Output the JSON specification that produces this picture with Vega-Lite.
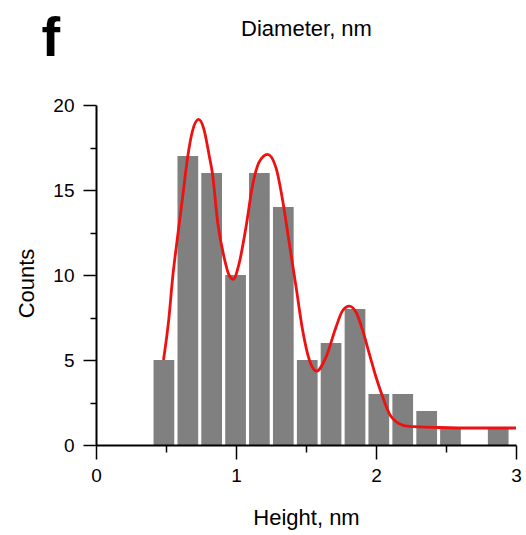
{
  "$schema": "https://vega.github.io/schema/vega-lite/v6.json",
  "autosize": "none",
  "width": 420,
  "height": 340,
  "padding": {"left": 96, "top": 105, "right": 10, "bottom": 90},
  "background": "white",
  "config": {
    "view": {"stroke": null},
    "font": "Liberation Sans",
    "axis": {
      "labelFont": "Liberation Sans",
      "titleFont": "Liberation Sans",
      "labelColor": "black",
      "titleColor": "black",
      "domainColor": "black",
      "tickColor": "black",
      "grid": false,
      "labelFontSize": 19,
      "titleFontSize": 22,
      "titleFontWeight": "normal"
    }
  },
  "datasets": {
    "bars": [
      {"start": 0.411, "end": 0.559, "count": 5},
      {"start": 0.582, "end": 0.730, "count": 17},
      {"start": 0.752, "end": 0.900, "count": 16},
      {"start": 0.923, "end": 1.071, "count": 10},
      {"start": 1.093, "end": 1.241, "count": 16},
      {"start": 1.264, "end": 1.412, "count": 14},
      {"start": 1.435, "end": 1.583, "count": 5},
      {"start": 1.605, "end": 1.753, "count": 6},
      {"start": 1.776, "end": 1.924, "count": 8},
      {"start": 1.946, "end": 2.094, "count": 3},
      {"start": 2.117, "end": 2.265, "count": 3},
      {"start": 2.288, "end": 2.436, "count": 2},
      {"start": 2.458, "end": 2.606, "count": 1},
      {"start": 2.799, "end": 2.947, "count": 1}
    ],
    "curve": [
      {"h": 0.482, "c": 5.0},
      {"h": 0.52, "c": 7.4},
      {"h": 0.547, "c": 9.8},
      {"h": 0.585, "c": 12.4},
      {"h": 0.619, "c": 14.6},
      {"h": 0.654, "c": 16.9},
      {"h": 0.69, "c": 18.5},
      {"h": 0.733, "c": 19.15},
      {"h": 0.77, "c": 18.6},
      {"h": 0.809, "c": 17.0},
      {"h": 0.833, "c": 15.9},
      {"h": 0.869, "c": 13.1},
      {"h": 0.916, "c": 11.0},
      {"h": 0.95, "c": 10.0},
      {"h": 0.981, "c": 9.75},
      {"h": 1.02, "c": 10.6},
      {"h": 1.071, "c": 12.8},
      {"h": 1.119, "c": 15.3},
      {"h": 1.166, "c": 16.65},
      {"h": 1.226, "c": 17.1},
      {"h": 1.286, "c": 16.3},
      {"h": 1.333, "c": 14.4},
      {"h": 1.381, "c": 11.85},
      {"h": 1.429, "c": 9.3},
      {"h": 1.476, "c": 6.75},
      {"h": 1.524, "c": 5.0},
      {"h": 1.576, "c": 4.35},
      {"h": 1.643, "c": 5.17},
      {"h": 1.714, "c": 6.93},
      {"h": 1.762, "c": 7.91},
      {"h": 1.809, "c": 8.17},
      {"h": 1.857, "c": 7.82},
      {"h": 1.905, "c": 6.74},
      {"h": 1.952, "c": 5.37},
      {"h": 2.0, "c": 4.0},
      {"h": 2.048, "c": 2.82},
      {"h": 2.095, "c": 1.84},
      {"h": 2.166, "c": 1.25},
      {"h": 2.238, "c": 1.09},
      {"h": 2.45, "c": 1.03},
      {"h": 2.7, "c": 1.0},
      {"h": 3.0, "c": 1.0}
    ]
  },
  "layer": [
    {
      "data": {"name": "bars"},
      "mark": {"type": "bar", "color": "#808080"},
      "encoding": {
        "x": {
          "field": "start", "type": "quantitative",
          "scale": {"domain": [0, 3], "nice": false, "zero": false},
          "axis": {
            "orient": "bottom",
            "values": [0, 1, 2, 3],
            "format": "d",
            "title": "Height, nm",
            "tickSize": 14,
            "tickWidth": 1.5,
            "domainWidth": 2,
            "labelPadding": 7,
            "labelFlush": false,
            "titleBaseline": "alphabetic",
            "titleY": 79,
            "zindex": 1
          }
        },
        "x2": {"field": "end"},
        "y": {
          "field": "count", "type": "quantitative",
          "scale": {"domain": [0, 20], "nice": false},
          "axis": {
            "orient": "left",
            "values": [0, 5, 10, 15, 20],
            "title": "Counts",
            "tickSize": 13,
            "tickWidth": 1.5,
            "domainWidth": 2,
            "labelPadding": 9,
            "titleBaseline": "alphabetic",
            "titleX": -63,
            "titleY": 178,
            "zindex": 1
          }
        },
        "y2": {"datum": 0}
      }
    },
    {
      "data": {"name": "curve"},
      "mark": {"type": "line", "color": "#ee1111", "strokeWidth": 2.8, "interpolate": "monotone"},
      "encoding": {
        "x": {
          "field": "h", "type": "quantitative",
          "axis": {
            "orient": "top",
            "title": "Diameter, nm",
            "domain": false,
            "ticks": false,
            "labels": false,
            "titleBaseline": "alphabetic",
            "titleY": -70
          }
        },
        "y": {"field": "c", "type": "quantitative", "axis": null}
      }
    },
    {
      "data": {"name": "curve"},
      "mark": {"type": "point", "opacity": 0},
      "encoding": {
        "x": {
          "field": "h", "type": "quantitative",
          "axis": {
            "orient": "bottom",
            "values": [0.5, 1.5, 2.5],
            "labels": false,
            "domain": false,
            "tickSize": 7,
            "tickWidth": 1.5,
            "title": null,
            "zindex": 1
          }
        },
        "y": {
          "field": "c", "type": "quantitative",
          "axis": {
            "orient": "left",
            "values": [2.5, 7.5, 12.5, 17.5],
            "labels": false,
            "domain": false,
            "tickSize": 6,
            "tickWidth": 1.5,
            "title": null,
            "zindex": 1
          }
        }
      }
    },
    {
      "data": {"name": "curve"},
      "mark": {"type": "point", "opacity": 0},
      "encoding": {
        "x": {
          "field": "h", "type": "quantitative",
          "axis": {
            "orient": "top",
            "title": "f",
            "domain": false,
            "ticks": false,
            "labels": false,
            "titleFontSize": 56,
            "titleFontWeight": "bold",
            "titleAlign": "left",
            "titleAnchor": "start",
            "titleBaseline": "alphabetic",
            "titleX": -55,
            "titleY": -50
          }
        },
        "y": {"field": "c", "type": "quantitative", "axis": null}
      }
    }
  ],
  "resolve": {"axis": {"x": "independent", "y": "independent"}}
}
